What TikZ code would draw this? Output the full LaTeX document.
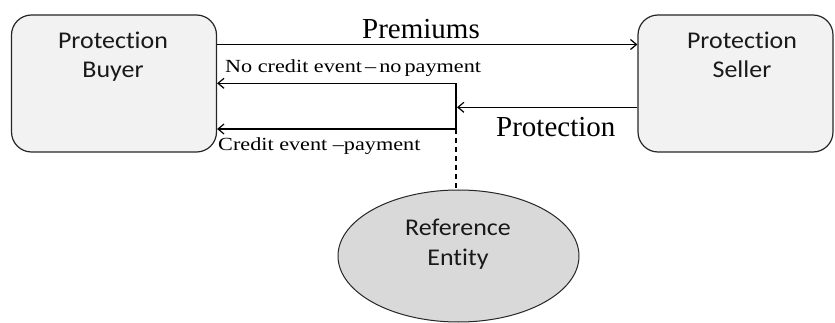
\documentclass[tikz,border=0pt]{standalone}
\usepackage{fontspec}
\setmainfont{Liberation Serif}
\newfontfamily\boxfont[FakeStretch=1.08,Ligatures=NoCommon]{Carlito}
\newfontfamily\lblfont[FakeStretch=1.2]{Liberation Serif}
\usetikzlibrary{arrows.meta,shapes.geometric}
\definecolor{boxfill}{HTML}{F2F2F2}
\definecolor{ellfill}{HTML}{D9D9D9}
\definecolor{edge}{HTML}{262626}
\begin{document}
\begin{tikzpicture}[x=1pt,y=-1pt,
  party/.style={draw=edge, line width=1.2pt, fill=boxfill, rounded corners=20pt, inner sep=0pt},
  entity/.style={ellipse, draw=edge, line width=1pt, fill=ellfill, inner sep=0pt, minimum width=241pt, minimum height=132pt},
  boxtxt/.style={font=\boxfont\fontsize{24}{29}\selectfont, text=black!90, anchor=base, inner sep=0pt},
  bigtxt/.style={font=\fontsize{29}{33}\selectfont, anchor=base, inner sep=0pt},
  smalltxt/.style={font=\lblfont\fontsize{18.5}{22}\selectfont, anchor=base west, inner sep=0pt},
  arr/.style={-{Straight Barb[length=6pt,width=10pt]}, line width=1.2pt},
  plain/.style={line width=1.2pt},
  dashline/.style={line width=1.2pt, dash pattern=on 5pt off 4pt}]
\useasboundingbox (0,0) rectangle (835,323);
% boxes
\node[party, minimum width=205pt, minimum height=137pt] (buyer) at (114,83.5) {};
\node[party, minimum width=195pt, minimum height=137pt] (seller) at (735.5,83.5) {};
\node[entity] (ref) at (458.5,256) {};
% box texts
\node[boxtxt] (b1) at (113,49) {Protection};
\node[boxtxt] (b2) at (113,78) {Buyer};
\node[boxtxt] (s1) at (742,49) {Protection};
\node[boxtxt] (s2) at (742,78) {Seller};
\node[boxtxt] (r1) at (458,235) {Reference};
\node[boxtxt] (r2) at (458,265) {Entity};
% junction points
\coordinate (j1) at (456,83.3);
\coordinate (j2) at (456,129);
\coordinate (pj) at (457,107.3);
% connectors
\draw[arr] ([yshift=39pt]buyer.east) -- ([yshift=39pt]seller.west);
\draw[arr] (j1) -- (j1 -| buyer.east);
\draw[arr] (j2) -- (j2 -| buyer.east);
\draw[plain] (j1) -- (j2);
\draw[arr] (pj -| seller.west) -- (pj);
\draw[dashline] (j2) -- (j2 |- ref.north);
% labels
\node[bigtxt] (lprem) at (421,39) {Premiums};
\node[bigtxt, anchor=base west] (lprot) at (496,137) {Protection};
\node[smalltxt] (lno) at (225,73) {No credit event\,–\,no\,payment};
\node[smalltxt] (lyes) at (218,151) {Credit event –payment};
\end{tikzpicture}
\end{document}
